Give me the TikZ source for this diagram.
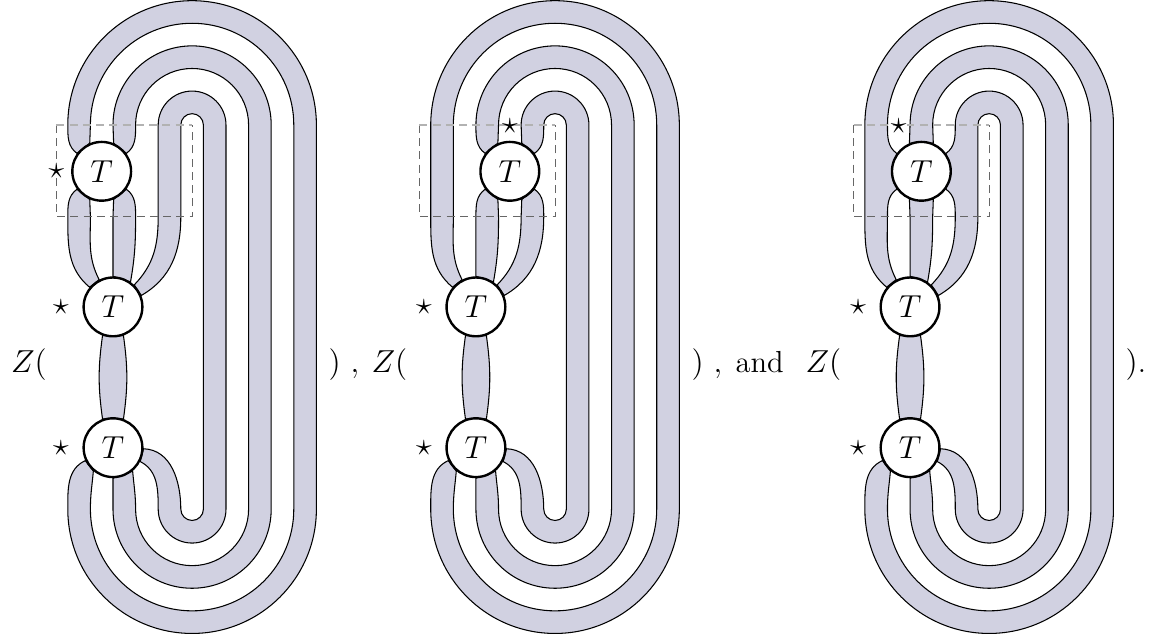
\documentclass[tikz,border=0pt]{standalone}
\usepackage{tikz}
\usetikzlibrary{backgrounds}
\definecolor{ribbongray}{RGB}{209,209,225}

% strand running clockwise round the outside, from (-r,0) to (-r,-17)
\newcommand{\overtop}[1]{arc[start angle=180, end angle=0, radius=#1] -- (#1,-17) arc[start angle=0, end angle=-180, radius=#1]}
% and back again, from (-r,-17) to (-r,0)
\newcommand{\underbot}[1]{arc[start angle=180, end angle=360, radius=#1] -- (#1,0) arc[start angle=0, end angle=180, radius=#1]}

\newcommand{\lowertensors}{%
  \node[tnode] (T2) at (-3.5,-8.05) {$T$};
  \node[tnode] (T3) at (-3.5,-14.28) {$T$};
  \node[mark star] (s2) at (-5.8,-8.05) {$\star$};
  \node[mark star] (s3) at (-5.8,-14.28) {$\star$};}
\newcommand{\lens}{%
  \filldraw[ribbon] (T2.250) to[out=262,in=98] (T3.110) -- (T3.70) to[out=82,in=278] (T2.290) -- cycle;}
\newcommand{\cutframe}{%
  \draw[frame] (-6,0) -- (-6,-4.07) -- (0,-4.07) -- (0,0);
  \draw[frame, draw=black!30] (-6,0) -- (0,0);}

\begin{document}
\begin{tikzpicture}[x=0.3cm, y=0.3cm,
    tnode/.style={circle, draw, line width=0.9pt, fill=white, minimum size=0.78cm, inner sep=0pt, font=\large},
    ribbon/.style={fill=ribbongray, draw=black, line width=0.4pt},
    frame/.style={draw=black!60, dash pattern=on 3pt off 2pt, line width=0.4pt},
    mark star/.style={font=\fontsize{11.5}{14}\selectfont},
    txt/.style={anchor=base west, inner sep=0pt, font=\fontsize{11.5}{14}\selectfont}]
  \useasboundingbox (-8.5,-22.92) rectangle (42.83,5.53);

  % first picture
  \begin{scope}[name prefix=a-]
    \node[tnode] (T1) at (-4,-2.05) {$T$};
    \node[mark star] (s1) at (-6,-2.05) {$\star$};
    \lowertensors
    \begin{scope}[on background layer]
      \filldraw[ribbon] (T1.144) to[out=144,in=-90] (-5.5,0) \overtop{5.5} to[out=90,in=205] (T3.205) -- (T3.230) to[out=265,in=90] (-4.5,-17) \underbot{4.5} -- (T1.113) -- cycle;
      \filldraw[ribbon] (T1.67) -- (-3.5,0) \overtop{3.5} -- (T3.270) -- (T3.310) to[out=275,in=90] (-2.5,-17) \underbot{2.5} to[out=-90,in=36] (T1.36) -- cycle;
      \filldraw[ribbon] (T2.46) to[out=46,in=-90] (-1.5,-4.07) -- (-1.5,0) \overtop{1.5} to[out=90,in=333] (T3.333) -- (T3.358) to[out=358,in=90] (-0.5,-17) \underbot{0.5} -- (-0.5,-4.07) to[out=-90,in=30] (T2.22) -- cycle;
      \filldraw[ribbon] (T1.216) to[out=216,in=90] (-5.5,-4.07) to[out=-90,in=140] (T2.140) -- (T2.117) to[out=117,in=-90] (-4.5,-4.07) -- (T1.247) -- cycle;
      \filldraw[ribbon] (T1.293) -- (-3.5,-4.07) -- (T2.90) -- (T2.55) to[out=80,in=-90] (-2.5,-4.07) to[out=90,in=324] (T1.324) -- cycle;
      \lens
      \cutframe
    \end{scope}
  \end{scope}

  % second picture
  \begin{scope}[shift={(16.06,0)}, name prefix=b-]
    \node[tnode] (T1) at (-2,-2.05) {$T$};
    \node[mark star] (s1) at (-2,-0.05) {$\star$};
    \lowertensors
    \begin{scope}[on background layer]
      \filldraw[ribbon] (T2.140) to[out=140,in=-90] (-5.5,-4.07) -- (-5.5,0) \overtop{5.5} to[out=90,in=205] (T3.205) -- (T3.230) to[out=265,in=90] (-4.5,-17) \underbot{4.5} -- (-4.5,-4.07) to[out=-90,in=117] (T2.117) -- cycle;
      \filldraw[ribbon] (T1.144) to[out=144,in=-90] (-3.5,0) \overtop{3.5} -- (T3.270) -- (T3.310) to[out=275,in=90] (-2.5,-17) \underbot{2.5} -- (T1.113) -- cycle;
      \filldraw[ribbon] (T1.67) -- (-1.5,0) \overtop{1.5} to[out=90,in=333] (T3.333) -- (T3.358) to[out=358,in=90] (-0.5,-17) \underbot{0.5} to[out=-90,in=36] (T1.36) -- cycle;
      \filldraw[ribbon] (T1.216) to[out=216,in=90] (-3.5,-4.07) -- (T2.90) -- (T2.55) to[out=80,in=-90] (-2.5,-4.07) -- (T1.247) -- cycle;
      \filldraw[ribbon] (T1.293) -- (-1.5,-4.07) to[out=-90,in=46] (T2.46) -- (T2.22) to[out=30,in=-90] (-0.5,-4.07) to[out=90,in=324] (T1.324) -- cycle;
      \lens
      \cutframe
    \end{scope}
  \end{scope}

  % third picture
  \begin{scope}[shift={(35.27,0)}, name prefix=c-]
    \node[tnode] (T1) at (-3,-2.05) {$T$};
    \node[mark star] (s1) at (-4,-0.05) {$\star$};
    \lowertensors
    \begin{scope}[on background layer]
      \filldraw[ribbon] (T2.140) to[out=140,in=-90] (-5.5,-4.07) -- (-5.5,0) \overtop{5.5} to[out=90,in=205] (T3.205) -- (T3.230) to[out=265,in=90] (-4.5,-17) \underbot{4.5} to[out=-90,in=144] (T1.144) -- (T1.216) to[out=216,in=90] (-4.5,-4.07) to[out=-90,in=117] (T2.117) -- cycle;
      \filldraw[ribbon] (T1.113) -- (-3.5,0) \overtop{3.5} -- (T3.270) -- (T3.310) to[out=275,in=90] (-2.5,-17) \underbot{2.5} -- (T1.67) -- cycle;
      \filldraw[ribbon] (T1.36) to[out=36,in=-90] (-1.5,0) \overtop{1.5} to[out=90,in=333] (T3.333) -- (T3.358) to[out=358,in=90] (-0.5,-17) \underbot{0.5} -- (-0.5,-4.07) to[out=-90,in=30] (T2.22) -- (T2.46) to[out=46,in=-90] (-1.5,-4.07) to[out=90,in=324] (T1.324) -- cycle;
      \filldraw[ribbon] (T1.247) -- (-3.5,-4.07) -- (T2.90) -- (T2.55) to[out=80,in=-90] (-2.5,-4.07) -- (T1.293) -- cycle;
      \lens
      \cutframe
    \end{scope}
  \end{scope}

  % text round the pictures
  \node[txt] (z1) at (-8.03,-10.97) {$Z($};
  \node[txt] (r1) at (6.02,-10.97) {$)$};
  \node[txt] (c1) at (6.99,-10.97) {$,$};
  \node[txt] (z2) at (7.92,-10.97) {$Z($};
  \node[txt] (r2) at (22.08,-10.97) {$)$};
  \node[txt] (c2) at (23.05,-10.97) {$,$};
  \node[txt] (and) at (24.03,-10.97) {and};
  \node[txt] (z3) at (27.12,-10.97) {$Z($};
  \node[txt] (r3) at (41.29,-10.97) {$)$.};
\end{tikzpicture}
\end{document}
